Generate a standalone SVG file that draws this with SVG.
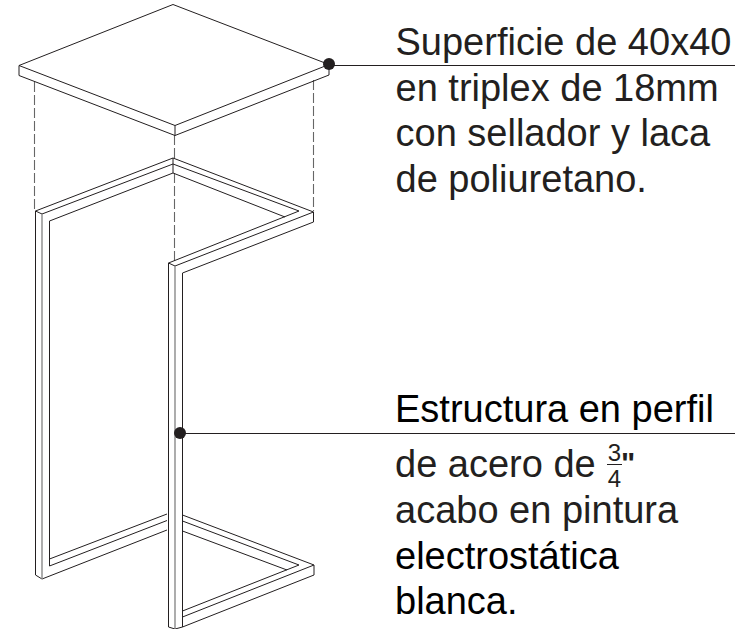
<svg xmlns="http://www.w3.org/2000/svg" width="751" height="629" viewBox="0 0 751 629">
<style>
.l{fill:none;stroke:#231f20;stroke-width:1;stroke-linejoin:miter}
.g{fill:none;stroke:#8a8a8a;stroke-width:1.4}
.d{fill:none;stroke:#666;stroke-width:1.100;stroke-dasharray:10 3}
.t{font-family:"Liberation Sans",Arial,sans-serif;font-size:38px;fill:#231f20}
.k{fill:#000}
.f{font-size:24px;text-anchor:middle}
.q{font-size:30px;font-weight:bold}
.dot{fill:#231f20}
</style>
<rect width="751" height="629" fill="#fff"/>
<g id="connectors">
<path class="d" d="M34.500 82V211M313.500 80V211M174.500 135V158M174.500 173V262"/>
<path class="l" d="M329 65.500H735M180 433.500H735"/>
</g>
<g id="tabletop">
<path class="l" d="M173 4.500L19 65.500L175 125.500L329 64.500ZM19 65.500V75.500L175 135.500L329 75V64.500M175 125.500V135.500"/>
</g>
<g id="frame">
<path class="l" d="M35.500 211L173 158L313.500 212L175 266L168.500 263L299 211L173 164L42 214L35.500 211"/>
<path class="l" d="M49.500 221L173 173L285 217M173 158V173M313.500 212V222L182.500 273"/>
<path class="l" d="M35.500 211V575L42 579L167 530M49.500 221V566L167 520.500M49.500 559L167 514"/>
<path class="g" d="M42 214V579M175 266V628"/>
<path class="l" d="M168.500 263V627L175 629L182.500 627L314 575V565L182.500 515M182.500 273V627M182.500 521L299 565L182.500 611M314 565L182.500 617M182.500 531L287 570"/>
</g>
<g id="label-top">
<circle class="dot" cx="329" cy="64" r="6"/>
<text class="t" x="395.500" y="55">Superficie de 40x40</text>
<text class="t" x="395.500" y="101">en triplex de 18mm</text>
<text class="t" x="395.500" y="146">con sellador y laca</text>
<text class="t" x="395.500" y="192">de poliuretano.</text>
</g>
<g id="label-bottom">
<circle class="dot" cx="180" cy="433" r="6"/>
<text class="t k" x="395" y="422">Estructura en perfil</text>
<text class="t" x="395" y="477">de acero de</text>
<text class="t f" x="614.500" y="461">3</text>
<path class="l" d="M607 464.500H622"/>
<text class="t f" x="614.500" y="487">4</text>
<text class="t q" x="621" y="473">"</text>
<text class="t" x="395" y="523">acabo en pintura</text>
<text class="t k" x="395" y="569">electrostática</text>
<text class="t k" x="395" y="614">blanca.</text>
</g>
</svg>
